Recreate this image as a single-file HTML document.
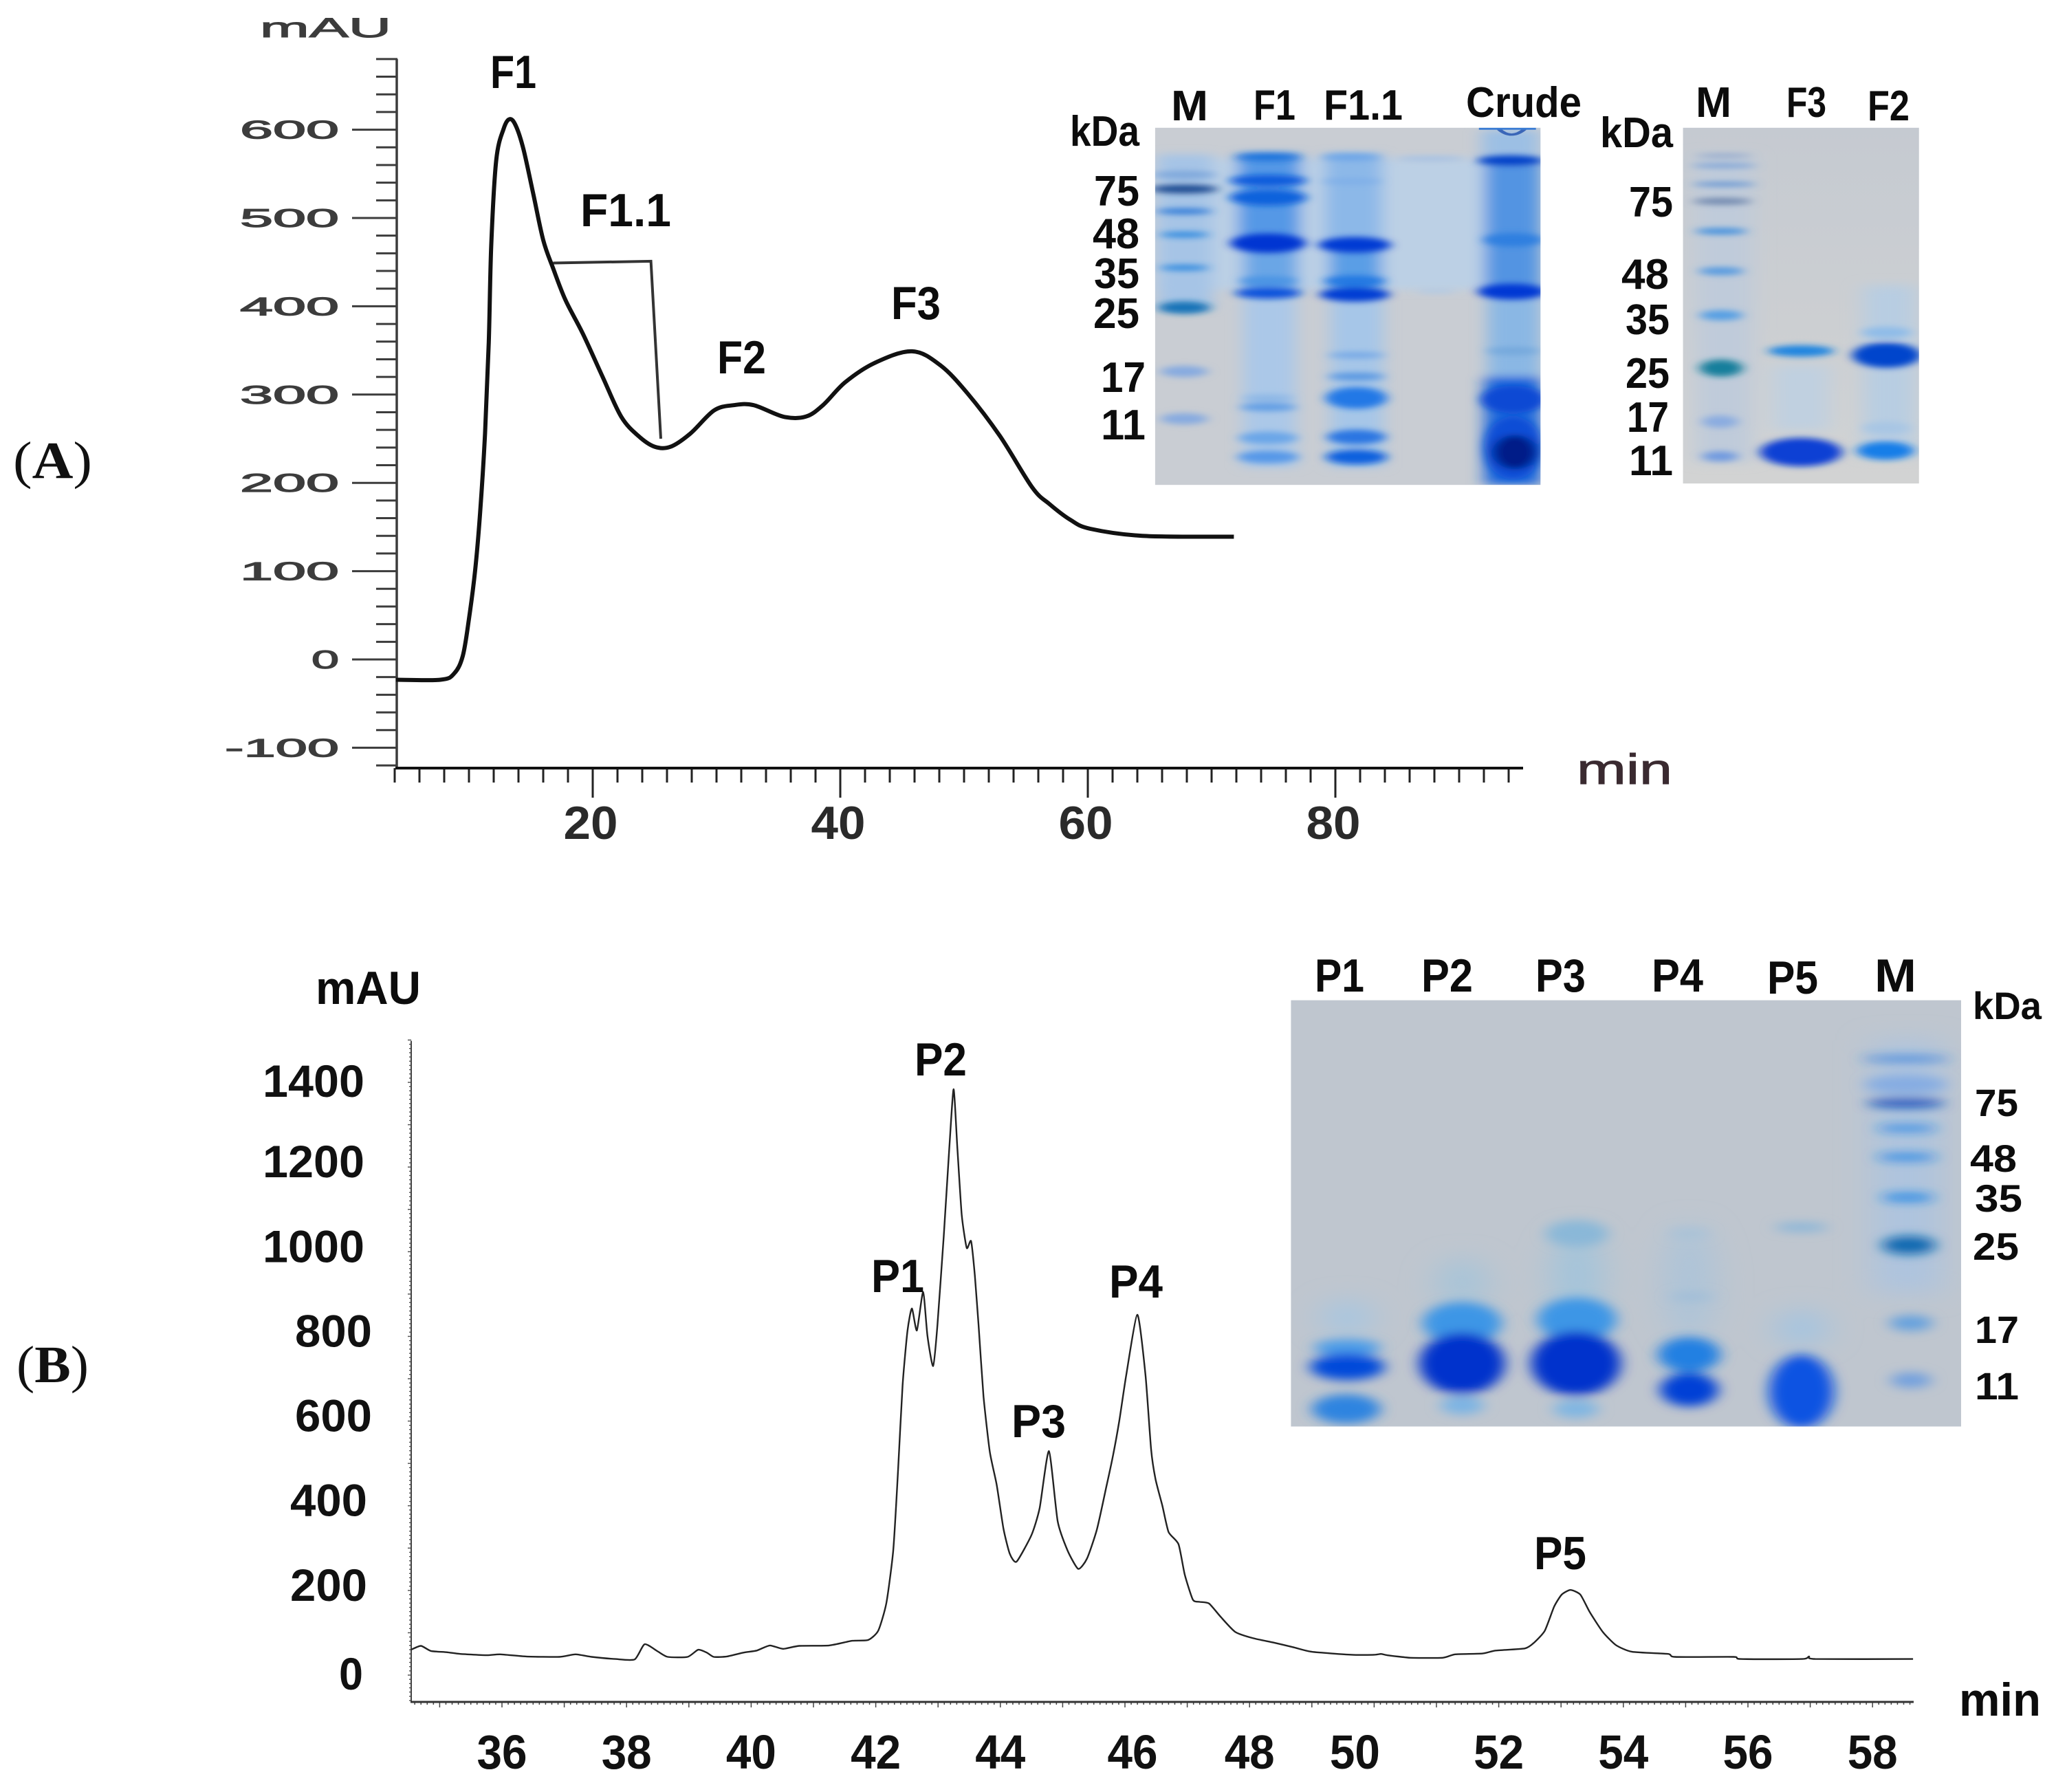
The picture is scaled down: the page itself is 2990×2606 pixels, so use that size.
<!DOCTYPE html>
<html lang="en">
<head>
<meta charset="utf-8">
<title>Chromatograms and SDS-PAGE gels</title>
<style>
  html, body { margin: 0; padding: 0; background: #fff; }
  #figure { display: block; width: 2990px; height: 2606px; }
  text { font-family: "Liberation Sans", sans-serif; }
  .lbl { font-weight: 700; fill: #0c0c0c; font-size: 62px; }
  .lbl-lg { font-size: 68px; }
  .lbl-a { font-weight: 400; fill: #3c3c3c; stroke: #3c3c3c; stroke-width: 1px; }
  .serif { font-family: "Liberation Serif", serif; font-size: 76px; fill: #111; }
</style>
</head>
<body>
<svg id="figure" xmlns="http://www.w3.org/2000/svg" width="2990" height="2606" viewBox="0 0 2990 2606">
  <defs>
    <filter id="blur1" x="-20%" y="-20%" width="140%" height="140%"><feGaussianBlur stdDeviation="10"/></filter>
    <filter id="blur2" x="-20%" y="-20%" width="140%" height="140%"><feGaussianBlur stdDeviation="18"/></filter>
    <filter id="blur3" x="-20%" y="-20%" width="140%" height="140%"><feGaussianBlur stdDeviation="14"/></filter>
    <filter id="blur4" x="-20%" y="-20%" width="140%" height="140%"><feGaussianBlur stdDeviation="32"/></filter>
    <linearGradient id="gel2-bg" x1="0" y1="0" x2="0" y2="1">
      <stop offset="0" stop-color="#c5cad1"/>
      <stop offset="1" stop-color="#d2d3d3"/>
    </linearGradient>
    <clipPath id="clip-gel1"><rect x="217" y="207" width="676" height="1253"/></clipPath>
    <clipPath id="clip-gel2"><rect x="1143" y="207" width="414" height="1248"/></clipPath>
    <clipPath id="clip-gel3"><rect x="102" y="205" width="1284" height="1215"/></clipPath>
  </defs>
  <rect width="2990" height="2606" fill="#fff"/>

  <g id="chart-a"></g>
  <g id="chart-b"></g>

  <!-- Panel letters -->
  <text class="serif" x="19" y="695" textLength="115" lengthAdjust="spacingAndGlyphs">(<tspan font-weight="700">A</tspan>)</text>
  <text class="serif" x="24" y="2010" textLength="105" lengthAdjust="spacingAndGlyphs">(<tspan font-weight="700">B</tspan>)</text>

  <!-- Panel A annotations -->
  <g>
    <text class="lbl-a" x="378" y="54" font-size="40" textLength="191" lengthAdjust="spacingAndGlyphs">mAU</text>
    <text x="2293" y="1140" font-size="62" fill="#3a2a30" stroke="#3a2a30" stroke-width="1" textLength="139" lengthAdjust="spacingAndGlyphs">min</text>
    <text class="lbl lbl-lg" x="713" y="128" textLength="67" lengthAdjust="spacingAndGlyphs">F1</text>
    <text class="lbl lbl-lg" x="844" y="329" textLength="132" lengthAdjust="spacingAndGlyphs">F1.1</text>
    <text class="lbl lbl-lg" x="1043" y="543" textLength="71" lengthAdjust="spacingAndGlyphs">F2</text>
    <text class="lbl lbl-lg" x="1296" y="464" textLength="72" lengthAdjust="spacingAndGlyphs">F3</text>
  </g>

  <!-- Gel 1 -->
  <g transform="translate(1500,100) scale(.829,.4145)">
    <rect x="217" y="207" width="676" height="1253" fill="#c9cdd3"/>
    <g clip-path="url(#clip-gel1)">
      <g filter="url(#blur3)">
        <rect x="217" y="315" width="590" height="460" fill="#bcd0e5"/>
        <rect x="222" y="300" width="96" height="540" fill="#a6c4e6"/>
        <rect x="362" y="298" width="110" height="330" fill="#5498e6"/>
        <rect x="372" y="630" width="95" height="160" fill="#6aa6e6"/>
        <rect x="372" y="800" width="92" height="600" fill="#abc8e8"/>
        <rect x="515" y="298" width="100" height="320" fill="#8cb8e8"/>
        <rect x="522" y="625" width="92" height="160" fill="#5a9ee6"/>
        <rect x="525" y="800" width="92" height="600" fill="#a6c6e8"/>
        <rect x="790" y="215" width="100" height="110" fill="#9cbfe4"/>
        <rect x="795" y="325" width="98" height="460" fill="#5394e2"/>
        <rect x="800" y="790" width="93" height="290" fill="#8ab7e4"/>
        <rect x="795" y="1080" width="98" height="380" fill="#1a68dc"/>
      </g>
      <g filter="url(#blur1)">
        <ellipse cx="268" cy="372" rx="56" ry="14" fill="#7fa8dc"/>
        <ellipse cx="268" cy="422" rx="60" ry="15" fill="#1d4a90"/>
        <ellipse cx="268" cy="500" rx="50" ry="10" fill="#2a78d8"/>
        <ellipse cx="268" cy="582" rx="44" ry="10" fill="#2a88e0"/>
        <ellipse cx="268" cy="698" rx="44" ry="10" fill="#2a88e0"/>
        <ellipse cx="268" cy="838" rx="46" ry="22" fill="#1273b8"/>
        <ellipse cx="268" cy="1062" rx="42" ry="20" fill="#86aae0"/>
        <ellipse cx="268" cy="1228" rx="42" ry="20" fill="#86aae0"/>

        <ellipse cx="415" cy="310" rx="58" ry="14" fill="#1f72dc"/>
        <ellipse cx="415" cy="392" rx="68" ry="20" fill="#0a5cdc"/>
        <ellipse cx="415" cy="452" rx="68" ry="28" fill="#0c62dc"/>
        <ellipse cx="415" cy="612" rx="66" ry="34" fill="#0036d2"/>
        <ellipse cx="415" cy="745" rx="50" ry="18" fill="#4c94e4"/>
        <ellipse cx="415" cy="787" rx="58" ry="20" fill="#0a52dc"/>
        <ellipse cx="415" cy="1155" rx="46" ry="12" fill="#8ab6e6"/>
        <ellipse cx="415" cy="1187" rx="50" ry="14" fill="#5f9ce4"/>
        <ellipse cx="415" cy="1295" rx="52" ry="22" fill="#6aa6e8"/>
        <ellipse cx="415" cy="1362" rx="54" ry="22" fill="#5698e8"/>

        <ellipse cx="560" cy="310" rx="52" ry="12" fill="#6aa4e8"/>
        <ellipse cx="562" cy="395" rx="52" ry="10" fill="#7eaee8"/>
        <ellipse cx="567" cy="618" rx="64" ry="28" fill="#003ad4"/>
        <ellipse cx="567" cy="745" rx="54" ry="20" fill="#2478e2"/>
        <ellipse cx="567" cy="792" rx="62" ry="25" fill="#003ed4"/>
        <ellipse cx="570" cy="1005" rx="50" ry="11" fill="#74a8e6"/>
        <ellipse cx="570" cy="1080" rx="50" ry="14" fill="#5a98e2"/>
        <ellipse cx="570" cy="1155" rx="54" ry="38" fill="#2478e6"/>
        <ellipse cx="570" cy="1292" rx="52" ry="26" fill="#2a76e2"/>
        <ellipse cx="570" cy="1362" rx="54" ry="26" fill="#0e60de"/>

        <ellipse cx="700" cy="315" rx="60" ry="8" fill="#a2bfe4"/>
        <ellipse cx="710" cy="780" rx="34" ry="6" fill="#abc8e8"/>

        <ellipse cx="840" cy="322" rx="58" ry="18" fill="#0640c8"/>
        <ellipse cx="845" cy="600" rx="52" ry="24" fill="#2f7fe0"/>
        <ellipse cx="843" cy="782" rx="60" ry="28" fill="#0038d4"/>
        <ellipse cx="845" cy="990" rx="46" ry="14" fill="#74a8dc"/>
        <ellipse cx="845" cy="1160" rx="56" ry="48" fill="#0748d4"/>
        <ellipse cx="845" cy="1330" rx="50" ry="110" fill="#0a4ed6"/>
        <ellipse cx="848" cy="1345" rx="38" ry="60" fill="#041f88"/>
      </g>
      <path d="M820 212 Q842 250 865 212" fill="none" stroke="#3a66b8" stroke-width="8"/>
      <rect x="785" y="207" width="100" height="7" fill="#3a7cd4"/>
    </g>
  </g>

  <!-- Gel 2 -->
  <g transform="translate(1500,100) scale(.829,.4145)">
    <rect x="1143" y="207" width="414" height="1248" fill="url(#gel2-bg)"/>
    <g clip-path="url(#clip-gel2)">
      <g filter="url(#blur2)">
        <rect x="1165" y="300" width="100" height="1080" fill="#bfcbda"/>
        <rect x="1460" y="760" width="90" height="600" fill="#b8cde2"/>
        <rect x="1300" y="1040" width="100" height="230" fill="#c0d0e0"/>
      </g>
      <g filter="url(#blur1)">
        <ellipse cx="1215" cy="305" rx="50" ry="5" fill="#7e9ac8"/>
        <ellipse cx="1215" cy="340" rx="58" ry="7" fill="#729cd6"/>
        <ellipse cx="1215" cy="405" rx="56" ry="7" fill="#568cd2"/>
        <ellipse cx="1212" cy="465" rx="52" ry="11" fill="#6c84ac"/>
        <ellipse cx="1210" cy="570" rx="46" ry="11" fill="#3f8fde"/>
        <ellipse cx="1210" cy="710" rx="40" ry="14" fill="#559ae0"/>
        <ellipse cx="1210" cy="865" rx="38" ry="18" fill="#559fe4"/>
        <ellipse cx="1210" cy="1050" rx="38" ry="30" fill="#127f9c"/>
        <ellipse cx="1208" cy="1238" rx="32" ry="22" fill="#8aace0"/>
        <ellipse cx="1208" cy="1360" rx="32" ry="18" fill="#709ae0"/>

        <ellipse cx="1350" cy="990" rx="58" ry="20" fill="#1f84e0"/>
        <ellipse cx="1350" cy="1345" rx="72" ry="50" fill="#0840d4"/>

        <ellipse cx="1500" cy="925" rx="44" ry="20" fill="#8fbce8"/>
        <ellipse cx="1500" cy="1005" rx="60" ry="44" fill="#0444cc"/>
        <ellipse cx="1500" cy="1260" rx="42" ry="22" fill="#a8c6e4"/>
        <ellipse cx="1498" cy="1340" rx="50" ry="32" fill="#147ee8"/>
      </g>
    </g>
  </g>

  <!-- Gel 1 + 2 labels -->
  <g>
    <text class="lbl" x="1703" y="175" textLength="54" lengthAdjust="spacingAndGlyphs">M</text>
    <text class="lbl" x="1823" y="174" textLength="61" lengthAdjust="spacingAndGlyphs">F1</text>
    <text class="lbl" x="1925" y="174" textLength="115" lengthAdjust="spacingAndGlyphs">F1.1</text>
    <text class="lbl" x="2132" y="170" textLength="168" lengthAdjust="spacingAndGlyphs">Crude</text>
    <text class="lbl" x="1556" y="212" textLength="101" lengthAdjust="spacingAndGlyphs">kDa</text>
    <text class="lbl" x="1591" y="299" textLength="66" lengthAdjust="spacingAndGlyphs">75</text>
    <text class="lbl" x="1589" y="361" textLength="68" lengthAdjust="spacingAndGlyphs">48</text>
    <text class="lbl" x="1591" y="419" textLength="66" lengthAdjust="spacingAndGlyphs">35</text>
    <text class="lbl" x="1590" y="477" textLength="67" lengthAdjust="spacingAndGlyphs">25</text>
    <text class="lbl" x="1601" y="570" textLength="65" lengthAdjust="spacingAndGlyphs">17</text>
    <text class="lbl" x="1601" y="639" textLength="65" lengthAdjust="spacingAndGlyphs">11</text>

    <text class="lbl" x="2466" y="170" textLength="52" lengthAdjust="spacingAndGlyphs">M</text>
    <text class="lbl" x="2598" y="170" textLength="58" lengthAdjust="spacingAndGlyphs">F3</text>
    <text class="lbl" x="2716" y="175" textLength="61" lengthAdjust="spacingAndGlyphs">F2</text>
    <text class="lbl" x="2327" y="214" textLength="106" lengthAdjust="spacingAndGlyphs">kDa</text>
    <text class="lbl" x="2369" y="315" textLength="64" lengthAdjust="spacingAndGlyphs">75</text>
    <text class="lbl" x="2358" y="420" textLength="69" lengthAdjust="spacingAndGlyphs">48</text>
    <text class="lbl" x="2364" y="486" textLength="64" lengthAdjust="spacingAndGlyphs">35</text>
    <text class="lbl" x="2364" y="564" textLength="64" lengthAdjust="spacingAndGlyphs">25</text>
    <text class="lbl" x="2366" y="628" textLength="61" lengthAdjust="spacingAndGlyphs">17</text>
    <text class="lbl" x="2369" y="691" textLength="64" lengthAdjust="spacingAndGlyphs">11</text>
  </g>

  <!-- Gel 3 -->
  <g transform="translate(1800,1350) scale(.759,.5102)">
    <rect x="102" y="205" width="1284" height="1215" fill="#bfc6cf"/>
    <g clip-path="url(#clip-gel3)">
      <g filter="url(#blur4)">
        <ellipse cx="430" cy="1010" rx="50" ry="70" fill="#a8c4d8"/>
        <ellipse cx="650" cy="990" rx="50" ry="130" fill="#a4c4da"/>
        <ellipse cx="210" cy="1110" rx="50" ry="50" fill="#a8c6e0"/>
        <ellipse cx="865" cy="1010" rx="50" ry="170" fill="#aec4d8"/>
        <ellipse cx="1080" cy="1140" rx="50" ry="50" fill="#a4c4e0"/>
        <rect x="1215" y="320" width="135" height="720" fill="#aec4de"/>
      </g>
      <g filter="url(#blur3)">
        <ellipse cx="210" cy="1195" rx="65" ry="24" fill="#4c9ce8"/>
        <ellipse cx="210" cy="1250" rx="72" ry="38" fill="#0448da"/>
        <ellipse cx="208" cy="1370" rx="66" ry="42" fill="#2e84e0"/>

        <ellipse cx="430" cy="1125" rx="76" ry="60" fill="#3c96e6"/>
        <ellipse cx="430" cy="1240" rx="82" ry="88" fill="#0130cc"/>
        <ellipse cx="430" cy="1360" rx="42" ry="26" fill="#7cb4e4"/>

        <ellipse cx="650" cy="870" rx="60" ry="38" fill="#8ab8d8"/>
        <ellipse cx="650" cy="1115" rx="76" ry="62" fill="#3c96e6"/>
        <ellipse cx="648" cy="1240" rx="86" ry="92" fill="#0130cc"/>
        <ellipse cx="648" cy="1370" rx="44" ry="26" fill="#80b6e2"/>

        <ellipse cx="865" cy="870" rx="40" ry="14" fill="#a8c2d8"/>
        <ellipse cx="870" cy="1050" rx="44" ry="10" fill="#9cbcd8"/>
        <ellipse cx="865" cy="1215" rx="60" ry="50" fill="#2280e2"/>
        <ellipse cx="865" cy="1315" rx="56" ry="48" fill="#0440d6"/>

        <ellipse cx="1080" cy="852" rx="52" ry="11" fill="#80b2da"/>
        <ellipse cx="1080" cy="1320" rx="62" ry="105" fill="#0852e2"/>

        <ellipse cx="1280" cy="372" rx="86" ry="7" fill="#2a78dc"/>
        <ellipse cx="1280" cy="445" rx="80" ry="26" fill="#85ace2"/>
        <ellipse cx="1280" cy="498" rx="76" ry="12" fill="#0c46b8"/>
        <ellipse cx="1282" cy="570" rx="60" ry="8" fill="#1c80e6"/>
        <ellipse cx="1282" cy="652" rx="60" ry="9" fill="#1c80e6"/>
        <ellipse cx="1284" cy="767" rx="52" ry="11" fill="#1c84e6"/>
        <ellipse cx="1286" cy="903" rx="52" ry="26" fill="#0e68b0"/>
        <ellipse cx="1290" cy="1125" rx="42" ry="22" fill="#64a0de"/>
        <ellipse cx="1290" cy="1288" rx="40" ry="22" fill="#72a0de"/>
      </g>
    </g>
  </g>

  <!-- Gel 3 labels and panel B annotations -->
  <g>
    <text class="lbl lbl-lg" x="1912" y="1442" textLength="72" lengthAdjust="spacingAndGlyphs">P1</text>
    <text class="lbl lbl-lg" x="2067" y="1442" textLength="75" lengthAdjust="spacingAndGlyphs">P2</text>
    <text class="lbl lbl-lg" x="2233" y="1442" textLength="73" lengthAdjust="spacingAndGlyphs">P3</text>
    <text class="lbl lbl-lg" x="2402" y="1442" textLength="75" lengthAdjust="spacingAndGlyphs">P4</text>
    <text class="lbl lbl-lg" x="2570" y="1445" textLength="74" lengthAdjust="spacingAndGlyphs">P5</text>
    <text class="lbl lbl-lg" x="2726" y="1442" textLength="61" lengthAdjust="spacingAndGlyphs">M</text>
    <text class="lbl" x="2869" y="1482" style="font-size:56px" textLength="100" lengthAdjust="spacingAndGlyphs">kDa</text>
    <text class="lbl" x="2872" y="1623" style="font-size:56px" textLength="63" lengthAdjust="spacingAndGlyphs">75</text>
    <text class="lbl" x="2865" y="1704" style="font-size:56px" textLength="68" lengthAdjust="spacingAndGlyphs">48</text>
    <text class="lbl" x="2872" y="1762" style="font-size:56px" textLength="69" lengthAdjust="spacingAndGlyphs">35</text>
    <text class="lbl" x="2869" y="1832" style="font-size:56px" textLength="67" lengthAdjust="spacingAndGlyphs">25</text>
    <text class="lbl" x="2872" y="1953" style="font-size:56px" textLength="64" lengthAdjust="spacingAndGlyphs">17</text>
    <text class="lbl" x="2872" y="2035" style="font-size:56px" textLength="64" lengthAdjust="spacingAndGlyphs">11</text>
  </g>
  <g>
    <text class="lbl lbl-lg" x="459" y="1460" textLength="153" lengthAdjust="spacingAndGlyphs">mAU</text>
    <text class="lbl lbl-lg" x="2849" y="2495" textLength="119" lengthAdjust="spacingAndGlyphs">min</text>
    <text class="lbl lbl-lg" x="1267" y="1879" textLength="77" lengthAdjust="spacingAndGlyphs">P1</text>
    <text class="lbl lbl-lg" x="1330" y="1564" textLength="76" lengthAdjust="spacingAndGlyphs">P2</text>
    <text class="lbl lbl-lg" x="1471" y="2090" textLength="79" lengthAdjust="spacingAndGlyphs">P3</text>
    <text class="lbl lbl-lg" x="1613" y="1887" textLength="78" lengthAdjust="spacingAndGlyphs">P4</text>
    <text class="lbl lbl-lg" x="2231" y="2282" textLength="76" lengthAdjust="spacingAndGlyphs">P5</text>
  </g>
</svg>
<script>
// Chromatogram A data
const timeA = [4.1,7.7,8.8,9.5,10,10.5,10.9,11.3,11.6,11.8,12.2,12.8,13.3,13.8,14.4,15.2,16,16.8,17.8,19.2,20.8,22.3,23.7,25,26.3,27.9,29.8,31.4,33,35.4,37.2,38.6,40.4,42.8,45.8,48.1,50.3,52.9,55.5,56.9,58.6,60.2,64.4,71.8];
const signalA = [-23,-23,-16,4,46,101,166,256,359,469,565,601,612,604,578,527,475,443,407,369,320,275,253,241,241,256,282,288,288,275,275,288,314,336,349,333,301,253,195,176,158,148,140,139];
const fractionTimeA = [16.8,24.7,25.5];
const fractionSignalA = [449,451,250];
const yTickLabelsA = [600,500,400,300,200,100,0,-100];
const xTickLabelsA = [20,40,60,80];

// Chromatogram B data
const timeB = [34.54,34.7,34.86,35.12,35.33,35.76,35.97,36.39,36.92,37.18,37.44,37.82,38.13,38.29,38.5,38.66,38.98,39.15,39.29,39.4,39.61,39.87,40.09,40.3,40.51,40.77,41.25,41.62,41.88,42.04,42.17,42.28,42.36,42.43,42.51,42.58,42.66,42.76,42.83,42.92,42.99,43.09,43.18,43.25,43.31,43.38,43.46,43.53,43.59,43.65,43.73,43.83,43.94,44.05,44.15,44.26,44.5,44.63,44.78,44.92,45.08,45.25,45.39,45.55,45.7,45.81,45.91,46.02,46.2,46.33,46.42,46.49,46.6,46.7,46.86,46.96,47.09,47.2,47.35,47.54,47.77,48.06,48.38,48.7,49,49.64,50,50.11,50.21,50.58,51.1,51.3,51.74,51.95,52.42,52.57,52.74,52.89,53.01,53.15,53.31,53.46,53.67,53.88,54.14,54.72,54.83,55.77,55.88,56.87,56.98,57.08,58.65];
const signalB = [60,69,57,54,50,47,49,44,43,49,43,38,37,73,56,43,43,60,53,43,44,53,58,70,62,69,70,81,83,105,170,294,489,684,814,866,814,905,801,730,827,1035,1244,1384,1244,1087,1009,1025,944,827,658,528,450,346,287,268,331,394,529,363,294,251,275,344,444,520,601,708,851,708,532,463,400,338,309,237,178,173,169,137,102,87,77,66,55,48,48,50,47,41,41,49,51,58,63,77,105,162,190,201,190,149,102,71,55,50,43,43,38,38,44,38,38];
const yTickLabelsB = [1400,1200,1000,800,600,400,200,0];
const xTickLabelsB = [36,38,40,42,44,46,48,50,52,54,56,58];

const SVG_NS = 'http://www.w3.org/2000/svg';
const chartA = document.getElementById('chart-a');
const chartB = document.getElementById('chart-b');

// Axis functions
const xA = t => 862 + (t - 20) * 18.0;
const yA = v => 959 - v * 1.284;
const xB = t => 730 + (t - 36) * 90.6;
const yB = v => 2436 - v * 0.6157;

function make(tag, parent) {
  const node = document.createElementNS(SVG_NS, tag);
  parent.appendChild(node);
  return node;
}
function setLine(node, x1, y1, x2, y2, color, width) {
  node.setAttribute('x1', x1);
  node.setAttribute('y1', y1);
  node.setAttribute('x2', x2);
  node.setAttribute('y2', y2);
  node.setAttribute('stroke', color);
  node.setAttribute('stroke-width', width);
}
function pathFrom(xs, ys, xFn, yFn) {
  return xs.map((x, i) => (i ? 'L' : 'M') + xFn(x).toFixed(1) + ' ' + yFn(ys[i]).toFixed(1)).join(' ');
}
function smoothFrom(xs, ys, xFn, yFn, k) {
  const pts = xs.map((x, i) => [xFn(x), yFn(ys[i])]);
  let d = 'M' + pts[0][0].toFixed(1) + ' ' + pts[0][1].toFixed(1);
  for (let i = 0; i < pts.length - 1; i++) {
    const p0 = pts[Math.max(i - 1, 0)];
    const p1 = pts[i];
    const p2 = pts[i + 1];
    const p3 = pts[Math.min(i + 2, pts.length - 1)];
    const c1x = p1[0] + (p2[0] - p0[0]) * k;
    const c1y = p1[1] + (p2[1] - p0[1]) * k;
    const c2x = p2[0] - (p3[0] - p1[0]) * k;
    const c2y = p2[1] - (p3[1] - p1[1]) * k;
    d += ' C' + c1x.toFixed(1) + ' ' + c1y.toFixed(1) + ' ' + c2x.toFixed(1) + ' ' + c2y.toFixed(1) + ' ' + p2[0].toFixed(1) + ' ' + p2[1].toFixed(1);
  }
  return d;
}
function setText(node, x, y, content, size, fillColor, weight, anchor, length) {
  node.setAttribute('x', x);
  node.setAttribute('y', y);
  node.setAttribute('font-size', size);
  node.setAttribute('fill', fillColor);
  node.setAttribute('font-weight', weight);
  node.setAttribute('text-anchor', anchor);
  node.setAttribute('textLength', length);
  node.setAttribute('lengthAdjust', 'spacingAndGlyphs');
  node.textContent = content;
}

// ---- Chart A axes ----
for (let v = -120; v <= 680; v += 20) {
  const tick = make('line', chartA);
  
  
  const major = v % 100 === 0;
  setLine(tick, major ? 512 : 547, yA(v), 578, yA(v), '#3c3c3c', 3);
}
for (let t = 4; t <= 94; t += 2) {
  const tick = make('line', chartA);
  
  
  const major = t % 20 === 0;
  setLine(tick, xA(t), 1117, xA(t), major ? 1160 : 1138, '#222', 3);
}
const yAxisA = make('line', chartA);


setLine(yAxisA, 577, yA(680), 577, 1119, '#3c3c3c', 3.5);
const xAxisA = make('line', chartA);


setLine(xAxisA, 575, 1117, 2215, 1117, '#111', 4);

yTickLabelsA.forEach(v => {
  const label = make('text', chartA);
  
  
  const txt = String(v);
  const len = v === 0 ? 40 : (v < 0 ? 166 : 144);
  setText(label, 493, yA(v) + 13, txt, 37, '#3c3c3c', 400, 'end', len);
  label.setAttribute('stroke', '#3c3c3c');
  label.setAttribute('stroke-width', '1.2');
});
xTickLabelsA.forEach(t => {
  const label = make('text', chartA);
  
  
  setText(label, xA(t) - 3, 1220, String(t), 68, '#2a2a2a', 700, 'middle', 79);
});

// ---- Chart A series ----
const fractionA = make('path', chartA);


fractionA.setAttribute('d', pathFrom(fractionTimeA, fractionSignalA, xA, yA));
fractionA.setAttribute('fill', 'none');
fractionA.setAttribute('stroke', '#333');
fractionA.setAttribute('stroke-width', '4');

const traceA = make('path', chartA);


traceA.setAttribute('d', smoothFrom(timeA, signalA, xA, yA, 1 / 6));
traceA.setAttribute('fill', 'none');
traceA.setAttribute('stroke', '#111');
traceA.setAttribute('stroke-width', '6');
traceA.setAttribute('stroke-linejoin', 'round');

// ---- Chart B axes ----
for (let v = -60; v <= 1500; v += 10) {
  const tick = make('line', chartB);
  
  
  const major = v % 100 === 0;
  setLine(tick, major ? 593 : 595, yB(v), 598, yB(v), '#555', 1.5);
}
for (let t = 34.6; t <= 58.65; t += 0.1) {
  const tick = make('line', chartB);
  
  
  const major = Math.abs(t - Math.round(t)) < 0.04;
  setLine(tick, xB(t), 2475, xB(t), major ? 2483 : 2479, '#444', 1.5);
}
const yAxisB = make('line', chartB);


setLine(yAxisB, 598, yB(1498), 598, 2476, '#444', 2);
const xAxisB = make('line', chartB);


setLine(xAxisB, 597, 2475, 2783, 2475, '#333', 3);

yTickLabelsB.forEach(v => {
  const label = make('text', chartB);
  
  
  const txt = String(v);
  const len = v === 0 ? 35 : (txt.length === 4 ? 148 : 112);
  const rightEdge = v >= 1000 ? 530 : (v >= 600 ? 541 : (v === 0 ? 528 : 534));
  const dy = (v === 0 || v === 1400) ? 0 : -6;
  setText(label, rightEdge, yB(v) + 21 + dy, txt, 66, '#111', 700, 'end', len);
});
const xLabelNudgeB = { 46: 11, 50: -28 };
xTickLabelsB.forEach(t => {
  const label = make('text', chartB);
  
  
  setText(label, xB(t) + (xLabelNudgeB[t] || 0), 2572, String(t), 70, '#111', 700, 'middle', 73);
});

// ---- Chart B series ----
const traceB = make('path', chartB);


traceB.setAttribute('d', smoothFrom(timeB, signalB, xB, yB, 0.1));
traceB.setAttribute('fill', 'none');
traceB.setAttribute('stroke', '#222');
traceB.setAttribute('stroke-width', '2.4');
traceB.setAttribute('stroke-linejoin', 'round');
</script>
</body>
</html>
